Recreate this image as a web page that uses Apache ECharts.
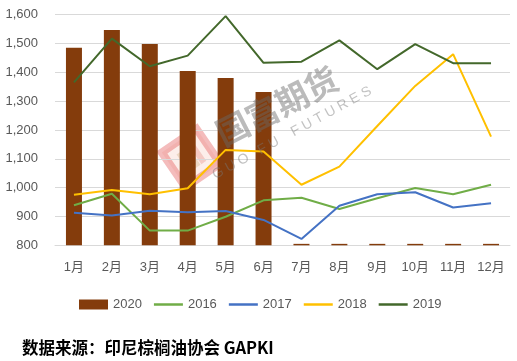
<!DOCTYPE html>
<html>
<head>
<meta charset="utf-8">
<script src="https://cdn.jsdelivr.net/npm/echarts@6/dist/echarts.min.js"></script>
<style>
html,body{margin:0;padding:0;background:#fff;}
#chart{width:517px;height:361px;}
</style>
</head>
<body>
<div id="chart"></div>
<script>
const categories = ['1月','2月','3月','4月','5月','6月','7月','8月','9月','10月','11月','12月'];
const s2020 = [1485, 1547, 1498, 1405, 1380, 1332, 0, 0, 0, 0, 0, 0];
const s2016 = [939, 979, 851, 851, 899, 956, 965, 926, 963, 999, 977, 1010];
const s2017 = [913, 903, 920, 915, 919, 888, 822, 937, 977, 984, 931, 946];
const s2018 = [975, 992, 977, 998, 1131, 1125, 1010, 1073, 1214, 1353, 1463, 1177];
const s2019 = [1365, 1517, 1421, 1458, 1595, 1433, 1437, 1511, 1411, 1498, 1432, 1432];
const yTicks = [800, 900, 1000, 1100, 1200, 1300, 1400, 1500, 1600];

const chart = echarts.init(document.getElementById('chart'));
const fontFam = 'Arial, "Liberation Sans", "Noto Sans CJK SC", sans-serif';
const lineIcon = 'path://M0,0H58V5H0Z';
const lineS = (name, data, color) => ({
  name, type: 'line', data, symbol: 'none', z: 3,
  lineStyle: { color, width: 2 }, itemStyle: { color }
});
chart.setOption({
  animation: false,
  textStyle: { fontFamily: fontFam },
  grid: { left: 55, right: 7, top: 14.7, bottom: 115.7, containLabel: false },
  legend: {
    left: 74, top: 293, itemWidth: 29, itemHeight: 10, itemGap: 12,
    textStyle: { color: '#595959', fontSize: 13, fontFamily: fontFam },
    data: [{ name: '2020', icon: 'rect' },
      { name: '2016', icon: lineIcon }, { name: '2017', icon: lineIcon },
      { name: '2018', icon: lineIcon }, { name: '2019', icon: lineIcon }]
  },
  xAxis: {
    type: 'category', data: categories,
    axisLine: { lineStyle: { color: '#d9d9d9', width: 1 } },
    axisTick: { show: false },
    axisLabel: { color: '#595959', fontSize: 13, margin: 16 }
  },
  yAxis: {
    type: 'value', min: yTicks[0], max: yTicks[yTicks.length - 1], interval: 100,
    axisLine: { show: false }, axisTick: { show: false },
    splitLine: { lineStyle: { color: '#d9d9d9', width: 1 } },
    axisLabel: { color: '#595959', fontSize: 13, margin: 17,
      formatter: v => v.toLocaleString('en-US') }
  },
  series: [
    { name: '2020', type: 'bar', barWidth: 16, z: 2,
      itemStyle: { color: '#843c0c' },
      // zero months are shown as a thin stub at the axis base, as in the source
      data: s2020.map(v => v > 0 ? v : 805) },
    lineS('2016', s2016, '#70ad47'),
    lineS('2017', s2017, '#4472c4'),
    lineS('2018', s2018, '#ffc000'),
    lineS('2019', s2019, '#43682b')
  ],
  graphic: [
    { type: 'group', x: 191, y: 158, rotation: 0.6, z: 10, children: [
      { type: 'rect', shape: { x: -21, y: -21, width: 42, height: 42 },
        style: { fill: 'rgba(245,205,195,0.35)', stroke: 'rgba(225,80,80,0.38)', lineWidth: 8 } },
      { type: 'rect', shape: { x: -10, y: -11, width: 14, height: 22 },
        style: { fill: 'rgba(205,175,125,0.35)' } },
      { type: 'rect', shape: { x: 5, y: -11, width: 6, height: 22 },
        style: { fill: 'rgba(225,120,110,0.3)' } }
    ]},
    { type: 'text', x: 277, y: 106, rotation: 0.47, z: 10,
      style: { text: '国富期货', fill: 'rgba(105,105,105,0.45)', font: 'bold 33px "Noto Sans CJK SC"',
        textAlign: 'center', textVerticalAlign: 'middle' } },
    { type: 'text', x: 292, y: 133, rotation: 0.5, z: 10,
      style: { text: 'G U O   F U    F U T U R E S', fill: 'rgba(120,120,120,0.45)', font: '14px Arial',
        textAlign: 'center', textVerticalAlign: 'middle' } },
    { type: 'text', left: 22, top: 339, z: 10,
      style: { text: '数据来源：印尼棕榈油协会 GAPKI', fill: '#000', font: 'bold 16.5px "Noto Sans CJK SC"' } }
  ]
});
</script>
</body>
</html>
